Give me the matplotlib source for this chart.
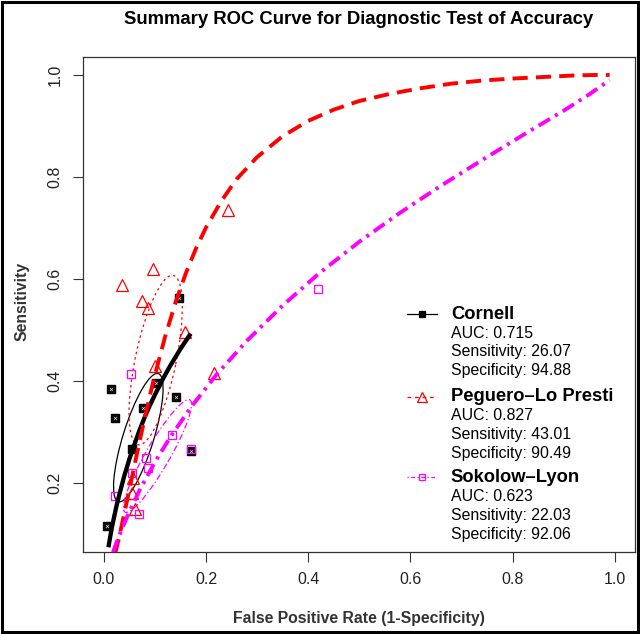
import matplotlib
matplotlib.use('Agg')
import matplotlib.pyplot as plt
from matplotlib.patches import Ellipse, Rectangle

plt.rcParams['font.family'] = ['Liberation Sans', 'DejaVu Sans']

# ---------------- data ----------------
title = "Summary ROC Curve for Diagnostic Test of Accuracy"
xlabel = "False Positive Rate (1-Specificity)"
ylabel = "Sensitivity"
tick_vals = [0.0, 0.2, 0.4, 0.6, 0.8, 1.0]

names = ["Cornell", "Peguero\u2013Lo Presti", "Sokolow\u2013Lyon"]
auc = ["0.715", "0.827", "0.623"]
sens_sum = ["26.07", "43.01", "22.03"]
spec_sum = ["94.88", "90.49", "92.06"]

# study points (FPR, sensitivity)
cornell_fpr = [0.148, 0.102, 0.141, 0.015, 0.077, 0.022, 0.055, 0.171, 0.007]
cornell_sens = [0.562, 0.397, 0.369, 0.384, 0.348, 0.327, 0.267, 0.263, 0.116]

peguero_fpr = [0.096, 0.036, 0.075, 0.086, 0.158, 0.101, 0.216, 0.244, 0.058, 0.055, 0.061]
peguero_sens = [0.620, 0.589, 0.556, 0.544, 0.497, 0.430, 0.415, 0.735, 0.209, 0.180, 0.150]

sokolow_fpr = [0.054, 0.134, 0.082, 0.087, 0.056, 0.021, 0.069, 0.171, 0.420]
sokolow_sens = [0.413, 0.294, 0.250, 0.229, 0.220, 0.175, 0.139, 0.266, 0.580]

# SROC curves
cornell_curve_fpr = [0.009, 0.012, 0.016, 0.02, 0.025, 0.03, 0.04, 0.05, 0.06, 0.07,
                     0.08, 0.09, 0.10, 0.115, 0.13, 0.15, 0.17]
cornell_curve_sens = [0.074, 0.092, 0.114, 0.133, 0.156, 0.176, 0.214, 0.247, 0.276, 0.304,
                      0.329, 0.352, 0.373, 0.403, 0.430, 0.463, 0.493]

peguero_curve_fpr = [0.022, 0.03, 0.04, 0.05, 0.06, 0.07, 0.08, 0.09, 0.10, 0.12, 0.14,
                     0.16, 0.18, 0.20, 0.23, 0.26, 0.30, 0.35, 0.40, 0.45, 0.50, 0.56,
                     0.62, 0.68, 0.74, 0.80, 0.86, 0.92, 0.96, 0.99]
peguero_curve_sens = [0.061, 0.094, 0.140, 0.187, 0.235, 0.282, 0.327, 0.371, 0.412, 0.487,
                      0.553, 0.610, 0.659, 0.701, 0.753, 0.796, 0.839, 0.880, 0.910, 0.932,
                      0.949, 0.963, 0.974, 0.983, 0.989, 0.993, 0.996, 0.999, 1.000, 1.000]

sokolow_curve_fpr = [0.018, 0.025, 0.035, 0.05, 0.07, 0.10, 0.13, 0.17, 0.22, 0.28, 0.35,
                     0.42, 0.50, 0.58, 0.66, 0.74, 0.82, 0.90, 0.95, 0.99]
sokolow_curve_sens = [0.064, 0.084, 0.109, 0.144, 0.186, 0.241, 0.290, 0.348, 0.412, 0.479,
                      0.548, 0.610, 0.673, 0.730, 0.783, 0.833, 0.882, 0.930, 0.962, 0.990]

# confidence regions: centre fpr, centre sens, major, minor, angle(deg)
cornell_region = [0.0675, 0.289, 0.263, 0.060, 72.7]
peguero_region = [0.1015, 0.441, 0.339, 0.080, 78.3]
sokolow_region = [0.105, 0.253, 0.254, 0.047, 60.0]

# ---------------- figure ----------------
fig = plt.figure(figsize=(6.4, 6.34), dpi=100)
ax = fig.add_axes([0.1303, 0.1287, 0.8622, 0.7820])

RED = '#ff0000'
MAG = '#ff00ff'

# study points
ax.plot(cornell_fpr, cornell_sens, ls='none', marker='s', ms=5.8, mfc='#111111', mec='black', zorder=3)
ax.plot(cornell_fpr, cornell_sens, ls='none', marker='x', ms=2.0, mew=0.5, color='#dddddd', zorder=3.1)
ax.plot(peguero_fpr, peguero_sens, ls='none', marker='^', ms=8.2, mfc='none', mec=RED, mew=0.9, zorder=3)
ax.plot(sokolow_fpr, sokolow_sens, ls='none', marker='s', ms=6.2, mfc='none', mec=MAG, mew=0.9, zorder=3)

# confidence regions
for reg, col, ls in [(cornell_region, 'black', '-'),
                     (peguero_region, RED, (0, (2, 2.5))),
                     (sokolow_region, MAG, (0, (5, 2, 1, 2)))]:
    e = Ellipse((reg[0], reg[1]), reg[2], reg[3], angle=reg[4], fill=False,
                ec=col, lw=0.9, ls=ls, zorder=2)
    ax.add_patch(e)

# SROC curves
ax.plot(cornell_curve_fpr, cornell_curve_sens, color='black', lw=3.1, solid_capstyle='butt', zorder=4)
ax.plot(peguero_curve_fpr, peguero_curve_sens, color=RED, lw=2.8, dashes=(3.9, 2.1), zorder=4)
ax.plot(sokolow_curve_fpr, sokolow_curve_sens, color=MAG, lw=2.8, dashes=(3.4, 1.5, 0.8, 1.5), zorder=4)

ax.set_xlim(-0.04, 1.04)
ax.set_ylim(0.064, 1.036)
ax.set_xticks(tick_vals)
ax.set_xticklabels([f"{v:.1f}" for v in tick_vals])
yt = tick_vals[1:]
ax.set_yticks(yt)
ax.set_yticklabels([f"{v:.1f}" for v in yt], rotation=90, va='center')
ax.tick_params(axis='both', direction='out', length=7, width=0.8, labelsize=11.5, color='#333333',
               labelcolor='#222222')
ax.tick_params(axis='x', pad=7)
ax.tick_params(axis='y', pad=8)
for s in ax.spines.values():
    s.set_linewidth(0.9)
    s.set_color('#333333')

fig.text(359 / 640, 1 - 20 / 634, title, ha='center', va='center', fontsize=13.3, fontweight='bold')
fig.text(359 / 640, 1 - 618 / 634, xlabel, ha='center', va='center', fontsize=11.3,
         fontweight='bold', color='#333333')
fig.text(22 / 640, 1 - 301 / 634, ylabel, ha='center', va='center', rotation=90, fontsize=11.3,
         fontweight='bold', color='#333333')

# legend (manual, R style)
lx0, lx1, tx = 0.593, 0.652, 0.679
leg_styles = [('black', '-', 's', 'black', 'black'),
              (RED, (0, (3, 3)), '^', 'none', RED),
              (MAG, (0, (1, 2, 3, 2)), 's', 'none', MAG)]
leg_y = [0.531, 0.369, 0.211]
for i in range(3):
    col, ls, mk, mfc, mec = leg_styles[i]
    y0 = leg_y[i]
    ax.plot([lx0, lx1], [y0, y0], color=col, lw=0.9, ls=ls, zorder=5)
    ax.plot([(lx0 + lx1) / 2], [y0], marker=mk, ms=6.5 if mk == '^' else 5, mfc=mfc, mec=mec,
            mew=0.9, ls='none', zorder=6)
    ax.text(tx, y0, names[i], ha='left', va='center', fontsize=13.2, fontweight='bold', zorder=6)
    ax.text(tx, y0 - 0.037, "AUC: " + auc[i], ha='left', va='center', fontsize=11.4, zorder=6)
    ax.text(tx, y0 - 0.074, "Sensitivity: " + sens_sum[i], ha='left', va='center', fontsize=11.4, zorder=6)
    ax.text(tx, y0 - 0.111, "Specificity: " + spec_sum[i], ha='left', va='center', fontsize=11.4, zorder=6)

# outer border of the figure
fig.patches.append(Rectangle((0.003, 0.003), 0.994, 0.994, transform=fig.transFigure,
                             fill=False, ec='black', lw=2.2))

fig.savefig('out.png', dpi=100)
